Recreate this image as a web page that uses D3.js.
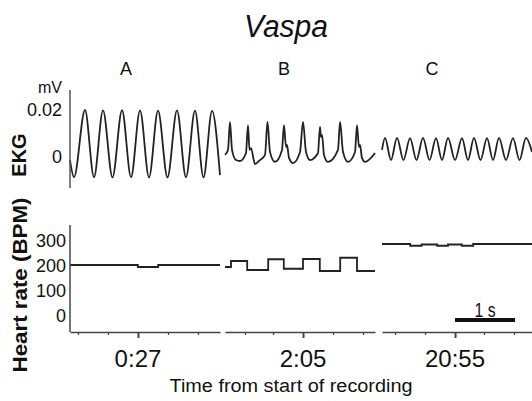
<!DOCTYPE html>
<html>
<head>
<meta charset="utf-8">
<script src="https://cdn.jsdelivr.net/npm/d3@7"></script>
<style>
  body { margin: 0; background: #fff; }
  svg { display: block; font-family: Arial, "Liberation Sans", sans-serif; }
</style>
</head>
<body>
<svg id="chart" width="532" height="401"></svg>
<script>
// --- data ---
const segmentNames = ["A", "B", "C"];
const segmentTimes = ["0:27", "2:05", "20:55"];

// EKG traces, [seconds into window, mV]
const ekgA = [
  [0, -0.0013], [0.067, -0.0086], [0.25, 0.0200], [0.4, -0.0086], [0.55, 0.0198],
  [0.708, -0.0087], [0.867, 0.0199], [1.017, -0.0086], [1.167, 0.0198], [1.317, -0.0087],
  [1.467, 0.0197], [1.625, -0.0087], [1.783, 0.0198], [1.933, -0.0086], [2.083, 0.0197],
  [2.225, -0.0087], [2.367, 0.0196], [2.5, -0.0077]
];
const ekgB = [
  [0, 0.0009], [0.05, 0.003], [0.083, 0.0149], [0.117, 0.003], [0.183, -0.0013],
  [0.25, -0.0017], [0.35, 0.0017], [0.383, 0.0136], [0.408, 0.003], [0.433, 0.0038],
  [0.5, -0.003], [0.583, -0.0013], [0.667, 0.0009], [0.708, 0.0149], [0.75, 0.0021],
  [0.833, -0.0021], [0.95, 0.003], [0.983, 0.0136], [1.017, 0.0043], [1.033, 0.0051],
  [1.067, -0.0004], [1.133, -0.0026], [1.25, 0.0021], [1.3, 0.0149], [1.35, 0.0021],
  [1.417, -0.0013], [1.55, 0.0017], [1.583, 0.0128], [1.6, 0.0085], [1.617, 0.0094],
  [1.65, 0.0009], [1.717, -0.0021], [1.883, 0.003], [1.917, 0.0149], [1.967, 0.0021],
  [2.05, -0.0021], [2.167, 0.0021], [2.2, 0.0136], [2.233, 0.0043], [2.25, 0.0051],
  [2.283, -0.0004], [2.333, -0.0021], [2.5, 0.0017]
];
const ekgC = [
  [0, 0.003], [0.05, 0.0081], [0.15, -0.0013], [0.25, 0.0081], [0.358, -0.0013],
  [0.467, 0.0080], [0.575, -0.0013], [0.683, 0.0081], [0.792, -0.0013], [0.9, 0.0080],
  [1.0, -0.0013], [1.1, 0.0081], [1.217, -0.0013], [1.333, 0.0080], [1.433, -0.0013],
  [1.533, 0.0081], [1.642, -0.0013], [1.75, 0.0080], [1.85, -0.0013], [1.95, 0.0081],
  [2.067, -0.0013], [2.183, 0.0080], [2.292, -0.0013], [2.4, 0.0081], [2.5, 0.0021]
];

// heart rate, [seconds, BPM] (step after)
const hrA = [[0, 200], [1.13, 192], [1.47, 200], [2.5, 200]];
const hrB = [[0, 192], [0.1, 216], [0.37, 180], [0.72, 223], [0.98, 185], [1.3, 224],
             [1.58, 176], [1.92, 229], [2.2, 176], [2.5, 176]];
const hrC = [[0, 284], [0.47, 277], [0.66, 282], [0.92, 277], [1.1, 282], [1.33, 277],
             [1.52, 284], [2.5, 284]];

// x ticks (s) per window, the major one carries the time label
const ticksA = [0.133, 0.633, 1.133, 1.633, 2.133];
const ticksB = [0.333, 0.8, 1.3, 1.8, 2.3];
const ticksC = [0.217, 0.717, 1.217, 1.7, 2.2];
const majorTicks = [1.133, 1.3, 1.217];

const ekgTicks = [0, 0.02];
const hrTicks = [0, 100, 200, 300];
const scaleBar = [1.217, 2.217]; // 1 s, drawn in window C

// --- layout ---
const svg = d3.select("#chart");
const ink = "#222";
const segLeft = [70, 225, 382];
const segWidth = 150;
const windowSec = 2.5;

const ekgY = d3.scaleLinear().domain([0, 0.02]).range([157, 110]);
const hrY = d3.scaleLinear().domain([0, 300]).range([315, 240]);
const axisY = 332;

const ekgData = [ekgA, ekgB, ekgC];
const hrData = [hrA, hrB, hrC];
const tickData = [ticksA, ticksB, ticksC];

// title
svg.append("text")
  .attr("x", 286).attr("y", 37)
  .attr("text-anchor", "middle")
  .attr("font-size", 31).attr("font-style", "italic")
  .attr("textLength", 84).attr("lengthAdjust", "spacingAndGlyphs")
  .attr("fill", "#111")
  .text("Vaspa");

segmentNames.forEach((name, i) => {
  const x = d3.scaleLinear().domain([0, windowSec]).range([segLeft[i], segLeft[i] + segWidth]);

  // window letter
  svg.append("text")
    .attr("x", x(windowSec / 2) + [-19, -16, -25][i]).attr("y", 75)
    .attr("text-anchor", "middle").attr("font-size", 18).attr("fill", "#111")
    .text(name);

  // EKG trace
  svg.append("path")
    .datum(ekgData[i])
    .attr("fill", "none").attr("stroke", ink).attr("stroke-width", 1.8)
    .attr("stroke-linejoin", "round")
    .attr("d", d3.line().x(d => x(d[0])).y(d => ekgY(d[1])).curve(d3.curveMonotoneX));

  // heart rate
  svg.append("path")
    .datum(hrData[i])
    .attr("fill", "none").attr("stroke", ink).attr("stroke-width", 1.8)
    .attr("d", d3.line().x(d => x(d[0])).y(d => hrY(d[1])).curve(d3.curveStepAfter));

  // time axis
  const ax = svg.append("g")
    .attr("transform", `translate(0,${axisY})`)
    .call(d3.axisBottom(x).tickValues(tickData[i]).tickSizeInner(3).tickSizeOuter(0).tickFormat(""));
  ax.select(".domain").attr("stroke", "#444").attr("stroke-width", 1.5);
  ax.selectAll(".tick line").attr("stroke", "#444")
    .attr("y2", d => d === majorTicks[i] ? 6 : 3)
    .attr("stroke-width", d => d === majorTicks[i] ? 2 : 1.2);

  svg.append("text")
    .attr("x", x(majorTicks[i])).attr("y", 367)
    .attr("text-anchor", "middle").attr("font-size", 24).attr("fill", "#111")
    .text(segmentTimes[i]);

  if (i === 2) {
    svg.append("line")
      .attr("x1", x(scaleBar[0])).attr("x2", x(scaleBar[1]))
      .attr("y1", 320).attr("y2", 320)
      .attr("stroke", "#111").attr("stroke-width", 4);
    svg.append("text")
      .attr("x", x((scaleBar[0] + scaleBar[1]) / 2)).attr("y", 317)
      .attr("text-anchor", "middle").attr("font-size", 21)
      .attr("textLength", 21).attr("lengthAdjust", "spacingAndGlyphs")
      .attr("fill", "#111")
      .text("1 s");
  }
});

// EKG y axis
svg.append("line").attr("x1", 70).attr("x2", 70).attr("y1", 90).attr("y2", 188)
  .attr("stroke", "#555").attr("stroke-width", 1.5);
svg.selectAll(".ekgTick").data(ekgTicks).join("text")
  .attr("x", 62).attr("y", d => ekgY(d) + 6)
  .attr("text-anchor", "end").attr("font-size", 18).attr("fill", "#111")
  .text(d => d === 0 ? "0" : d3.format(".2f")(d));
svg.append("text").attr("x", 62).attr("y", 93)
  .attr("text-anchor", "end").attr("font-size", 16).attr("fill", "#111")
  .text("mV");

// heart rate y axis
svg.append("line").attr("x1", 70).attr("x2", 70).attr("y1", 225).attr("y2", axisY)
  .attr("stroke", "#444").attr("stroke-width", 1.5);
svg.selectAll(".hrTick").data(hrTicks).join("text")
  .attr("x", 66).attr("y", d => hrY(d) + 7)
  .attr("text-anchor", "end").attr("font-size", 19).attr("fill", "#111")
  .attr("textLength", d => String(d).length * 10).attr("lengthAdjust", "spacingAndGlyphs")
  .text(d => d);

// axis titles
svg.append("text")
  .attr("transform", "translate(26,155) rotate(-90)")
  .attr("text-anchor", "middle").attr("font-size", 20).attr("font-weight", "bold")
  .attr("fill", "#111")
  .text("EKG");
svg.append("text")
  .attr("transform", "translate(27,285) rotate(-90)")
  .attr("text-anchor", "middle").attr("font-size", 20).attr("font-weight", "bold")
  .attr("textLength", 175).attr("lengthAdjust", "spacingAndGlyphs")
  .attr("fill", "#111")
  .text("Heart rate (BPM)");

svg.append("text")
  .attr("x", 291).attr("y", 392)
  .attr("text-anchor", "middle").attr("font-size", 18).attr("fill", "#111")
  .attr("textLength", 243).attr("lengthAdjust", "spacingAndGlyphs")
  .text("Time from start of recording");
</script>
</body>
</html>
